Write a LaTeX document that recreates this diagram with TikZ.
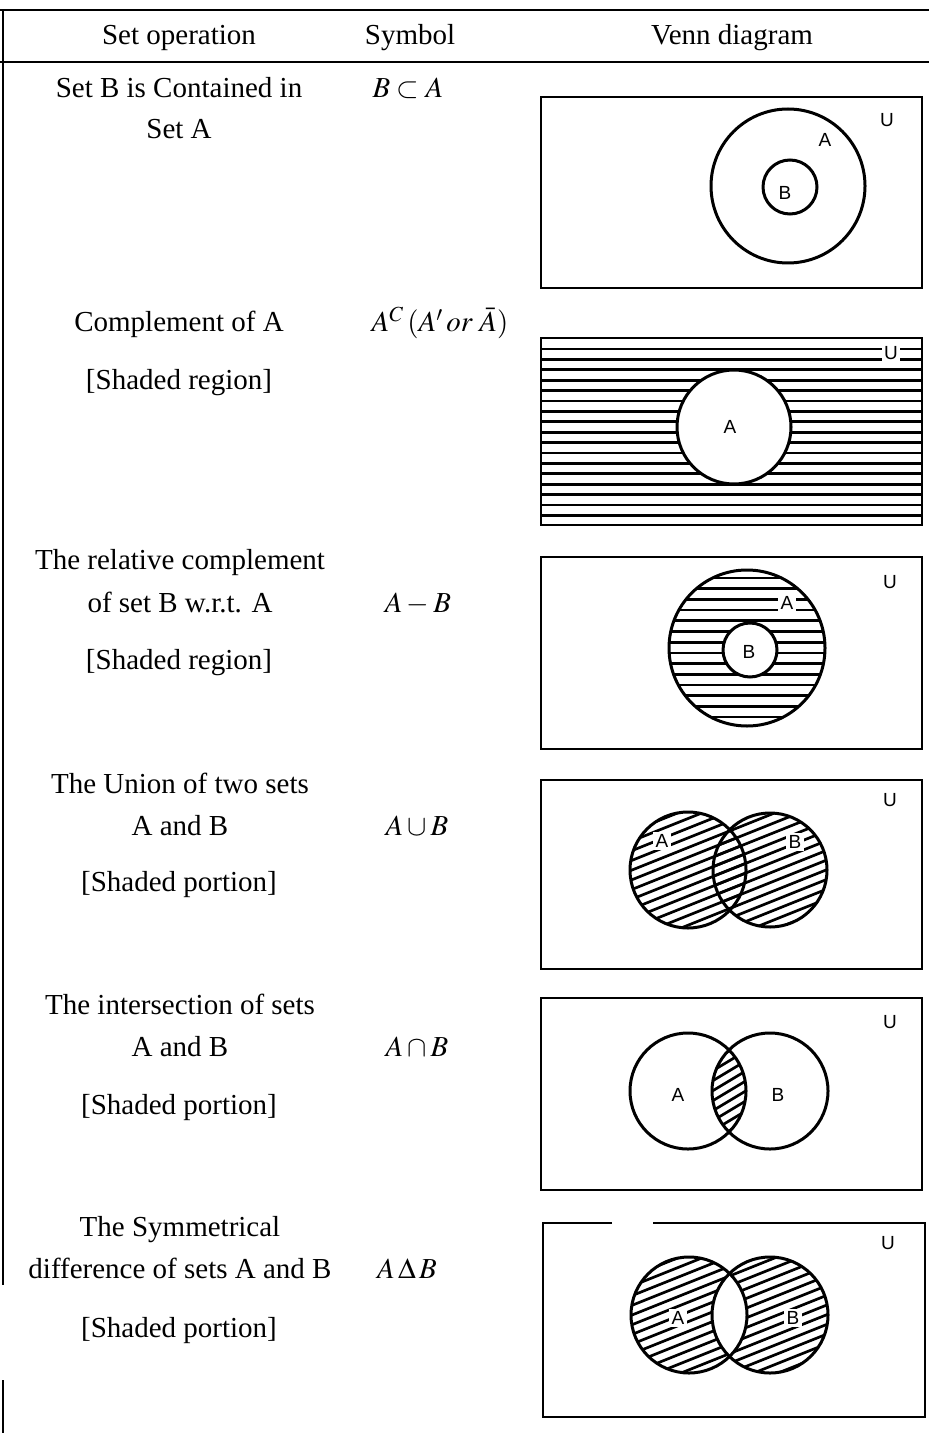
\documentclass[tikz,border=0pt]{standalone}
\usepackage{mathptmx}
\usepackage{fontspec}
\setmainfont{Liberation Serif}
\newfontfamily\vennfont{Liberation Sans}
\usepackage{tikz}

\tikzset{
  txt/.style={anchor=base, inner sep=0pt, font=\fontsize{14.5}{17}\selectfont},
  lbl/.style={inner sep=0pt, font=\vennfont\fontsize{9.5}{11}\selectfont},
  lblw/.style={lbl, fill=white, inner sep=1.2pt},
  rule/.style={line width=0.9pt},
  ubox/.style={line width=1pt},
  setc/.style={line width=1.5pt},
  hatch/.style={line width=1.35pt},
}

\begin{document}
\begin{tikzpicture}[x=0.5pt,y=-0.5pt]
\useasboundingbox (0,0) rectangle (929,1433);

% table rules
\draw[rule] (0,10) -- (929,10);
\draw[rule] (0,62) -- (929,62);
\draw[rule] (3,10) -- (3,1285);
\draw[rule] (3,1380) -- (3,1433);

% header
\node[txt] (hop) at (179,45) {Set operation};
\node[txt] (hsym) at (410,45) {Symbol};
\node[txt] (hvenn) at (732,45) {Venn diagram};

% column 1: set operations
\node[txt] (op1a) at (179,98) {Set B is Contained in};
\node[txt] (op1b) at (179,139) {Set A};
\node[txt] (op2a) at (179,332) {Complement of A};
\node[txt] (op2b) at (179,389) {[Shaded region]};
\node[txt] (op3a) at (180,569) {The relative complement};
\node[txt] (op3b) at (180,612) {of set B w.r.t. A};
\node[txt] (op3c) at (179,669) {[Shaded region]};
\node[txt] (op4a) at (180,793) {The Union of two sets};
\node[txt] (op4b) at (180,835) {A and B};
\node[txt] (op4c) at (179,891) {[Shaded portion]};
\node[txt] (op5a) at (180,1014) {The intersection of sets};
\node[txt] (op5b) at (180,1056) {A and B};
\node[txt] (op5c) at (179,1114) {[Shaded portion]};
\node[txt] (op6a) at (180,1236) {The Symmetrical};
\node[txt] (op6b) at (180,1278) {difference of sets A and B};
\node[txt] (op6c) at (179,1337) {[Shaded portion]};

% column 2: symbols
\node[txt] (sym1) at (408,98) {$B\subset A$};
\node[txt] (sym2) at (440,332) {$A^{C}\,(A'\,or\;\bar{A})$};
\node[txt] (sym3) at (418,612) {$A-B$};
\node[txt] (sym4) at (417,835) {$A\cup B$};
\node[txt] (sym5) at (417,1056) {$A\cap B$};
\node[txt] (sym6) at (407,1278) {$A\,\Delta\,B$};

% Venn 1: B subset of A
\draw[ubox] (541,97) rectangle (922,288);
\draw[setc] (788,186) circle (77);
\draw[setc] (790,187) circle (27);
\node[lbl] (v1a) at (825,140) {A};
\node[lbl] (v1b) at (785,193) {B};
\node[lbl] (v1u) at (887,120) {U};

% Venn 2: complement of A
\begin{scope}
\clip (541,338) rectangle (922,525);
\foreach \y in {349,359.4,...,518} \draw[hatch] (541,\y) -- (922,\y);
\end{scope}
\draw[ubox] (541,338) rectangle (922,525);
\filldraw[setc, fill=white] (734,427) circle (57);
\node[lbl] (v2a) at (730,427) {A};
\node[lblw] (v2u) at (891,353) {U};

% Venn 3: A - B
\draw[ubox] (541,557) rectangle (922,749);
\begin{scope}
\clip (747,648) circle (78);
\foreach \y in {578,588.7,...,726} \draw[hatch] (660,\y) -- (830,\y);
\end{scope}
\draw[setc] (747,648) circle (78);
\filldraw[setc, fill=white] (750,650) circle (27);
\node[lblw] (v3a) at (787,603) {A};
\node[lbl] (v3b) at (749,652) {B};
\node[lbl] (v3u) at (890,582) {U};

% Venn 4: A union B
\draw[ubox] (541,780) rectangle (922,969);
\begin{scope}
\clip (688,870) circle (58);
\foreach \k in {-12,...,12} \draw[hatch] (609,{870+\k*9.7+48}) -- ++(240,-96);
\end{scope}
\begin{scope}
\clip (770,870) circle (57);
\foreach \k in {-12,...,12} \draw[hatch] (609,{870+\k*9.7+48}) -- ++(240,-96);
\end{scope}
\draw[setc] (688,870) circle (58);
\draw[setc] (770,870) circle (57);
\node[lblw] (v4a) at (662,841) {A};
\node[lblw] (v4b) at (795,842) {B};
\node[lbl] (v4u) at (890,800) {U};

% Venn 5: A intersection B
\draw[ubox] (541,998) rectangle (922,1190);
\begin{scope}
\clip (688,1091) circle (58);
\clip (770,1091) circle (58);
\foreach \k in {-9,...,9} \draw[hatch] (689,{1091+\k*10+24}) -- ++(80,-48);
\end{scope}
\draw[setc] (688,1091) circle (58);
\draw[setc] (770,1091) circle (58);
\node[lbl] (v5a) at (678,1095) {A};
\node[lbl] (v5b) at (778,1095) {B};
\node[lbl] (v5u) at (890,1022) {U};

% Venn 6: symmetric difference
\draw[ubox] (612,1223) -- (543,1223) -- (543,1417) -- (925,1417) -- (925,1223) -- (653,1223);
\begin{scope}
\clip (689,1315) circle (58);
\foreach \k in {-12,...,12} \draw[hatch] (609,{1315+\k*9.7+48}) -- ++(240,-96);
\end{scope}
\begin{scope}
\clip (770,1315) circle (58);
\foreach \k in {-12,...,12} \draw[hatch] (609,{1315+\k*9.7+48}) -- ++(240,-96);
\end{scope}
\begin{scope}
\clip (689,1315) circle (58);
\fill[white] (770,1315) circle (58);
\end{scope}
\draw[setc] (689,1315) circle (58);
\draw[setc] (770,1315) circle (58);
\node[lblw] (v6a) at (678,1318) {A};
\node[lblw] (v6b) at (793,1318) {B};
\node[lbl] (v6u) at (888,1243) {U};
\end{tikzpicture}
\end{document}
